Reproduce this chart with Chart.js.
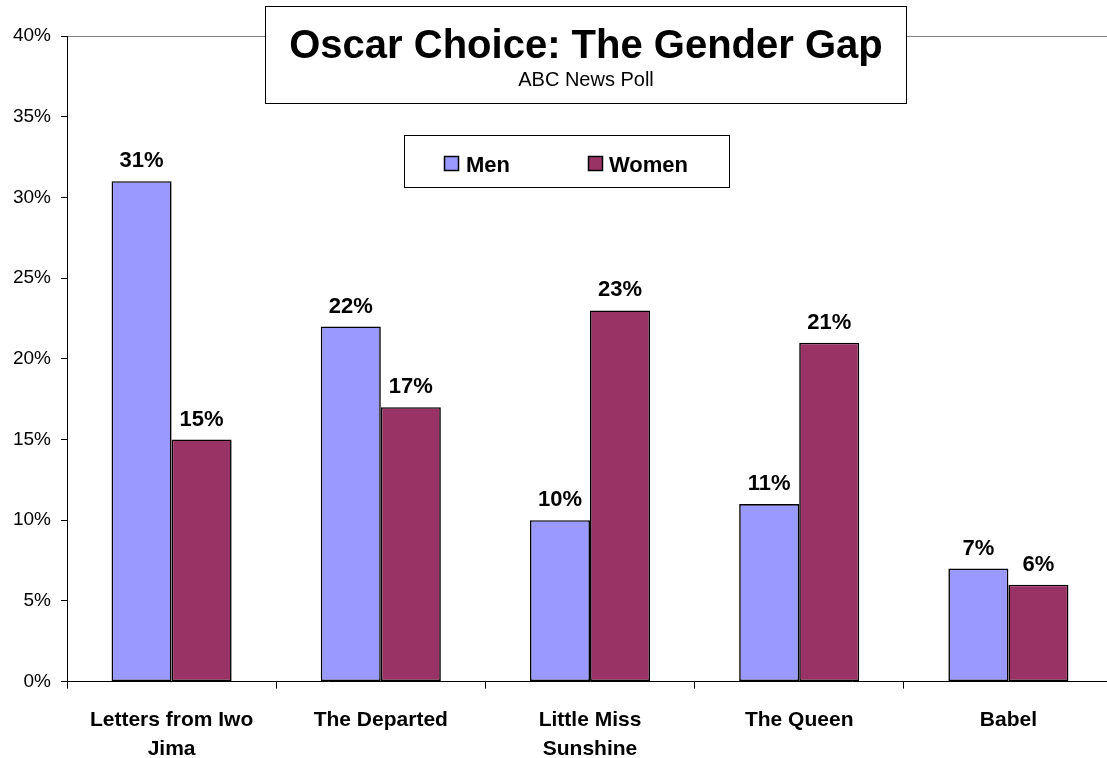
<!DOCTYPE html>
<html>
<head>
<meta charset="utf-8">
<title>Oscar Choice: The Gender Gap</title>
<script src="https://cdn.jsdelivr.net/npm/chart.js@4.4.0/dist/chart.umd.min.js"></script>
<style>
  html, body { margin: 0; padding: 0; background: #fff; overflow: hidden; }
  #wrap { width: 1107px; height: 758px; overflow: hidden; position: relative; }
  canvas { display: block; }
</style>
</head>
<body>
<div id="wrap"><canvas id="chart" width="1125" height="758"></canvas></div>
<script>
  // ── Data ───────────────────────────────────────────────────────────────────
  const CATEGORIES = [
    ['Letters from Iwo', 'Jima'],
    'The Departed',
    ['Little Miss', 'Sunshine'],
    'The Queen',
    'Babel',
  ];
  const MEN   = [31, 22, 10, 11, 7];
  const WOMEN = [15, 17, 23, 21, 6];
  const Y_TICKS = [0, 5, 10, 15, 20, 25, 30, 35, 40];

  const TITLE    = 'Oscar Choice: The Gender Gap';
  const SUBTITLE = 'ABC News Poll';

  const FONT = "'Liberation Sans', Arial, Helvetica, sans-serif";

  // ── Plugins: value labels, title box, legend box ──────────────────────────
  const valueLabels = {
    id: 'valueLabels',
    afterDatasetsDraw(chart) {
      const ctx = chart.ctx;
      ctx.save();
      ctx.font = 'bold 22px ' + FONT;
      ctx.fillStyle = '#000';
      ctx.textAlign = 'center';
      ctx.textBaseline = 'alphabetic';
      chart.data.datasets.forEach((ds, i) => {
        chart.getDatasetMeta(i).data.forEach((bar, j) => {
          ctx.fillText(ds.data[j] + '%', bar.x, bar.y - 14);
        });
      });
      ctx.restore();
    },
  };

  const boxes = {
    id: 'boxes',
    afterDraw(chart) {
      const ctx = chart.ctx;
      ctx.save();
      // title box
      ctx.fillStyle = '#fff';
      ctx.fillRect(266, 6, 641, 97);
      ctx.strokeStyle = '#000';
      ctx.lineWidth = 1;
      ctx.strokeRect(265.5, 6.5, 641, 97);
      ctx.fillStyle = '#000';
      ctx.textAlign = 'center';
      ctx.font = 'bold 40px ' + FONT;
      ctx.fillText(TITLE, 586, 58);
      ctx.font = '20px ' + FONT;
      ctx.fillText(SUBTITLE, 586, 86);

      // legend box
      ctx.fillStyle = '#fff';
      ctx.fillRect(405, 136, 325, 52);
      ctx.strokeStyle = '#000';
      ctx.strokeRect(404.5, 135.5, 325, 52);
      const items = [{ sx: 444, tx: 466 }, { sx: 588, tx: 609 }];
      ctx.textAlign = 'left';
      ctx.font = 'bold 22px ' + FONT;
      chart.data.datasets.forEach((ds, i) => {
        const it = items[i];
        ctx.fillStyle = ds.backgroundColor;
        ctx.fillRect(it.sx, 156, 15, 15);
        ctx.strokeStyle = '#000';
        ctx.lineWidth = 1.5;
        ctx.strokeRect(it.sx + 0.5, 156.5, 14, 14);
        ctx.fillStyle = '#000';
        ctx.fillText(ds.label, it.tx, 171.5);
      });
      ctx.restore();
    },
  };

  // ── Chart ──────────────────────────────────────────────────────────────────
  new Chart(document.getElementById('chart'), {
    type: 'bar',
    data: {
      labels: CATEGORIES,
      datasets: [
        { label: 'Men',   data: MEN,   backgroundColor: '#9999FF' },
        { label: 'Women', data: WOMEN, backgroundColor: '#993366' },
      ],
    },
    options: {
      responsive: false,
      animation: false,
      devicePixelRatio: 1,
      layout: { padding: { top: 36, right: 12, left: 0, bottom: 0 } },
      datasets: {
        bar: {
          categoryPercentage: 0.574, barPercentage: 1.0,
          borderColor: '#000', borderWidth: 1.6, borderSkipped: false,
        },
      },
      plugins: {
        legend: { display: false },
        title: { display: false },
        tooltip: { enabled: false },
      },
      scales: {
        x: {
          offset: true,
          grid: {
            display: true, offset: true, drawOnChartArea: false,
            tickLength: 7, tickColor: '#000',
          },
          border: { color: '#000', width: 1 },
          ticks: {
            color: '#000', padding: 17, maxRotation: 0, autoSkip: false,
            font: { family: FONT, size: 21, weight: 'bold', lineHeight: 1.4 },
          },
          afterFit(scale) { scale.height = 76.4; },
        },
        y: {
          min: 0, max: 40,
          afterBuildTicks(scale) { scale.ticks = Y_TICKS.map(v => ({ value: v })); },
          grid: {
            color: c => (c.tick && c.tick.value === 40 ? '#808080' : 'rgba(0,0,0,0)'),
            tickColor: '#000', tickLength: 6,
          },
          border: { color: '#000', width: 1 },
          ticks: {
            color: '#000', padding: 10,
            font: { family: FONT, size: 19 },
            callback: v => v + '%',
          },
          afterFit(scale) { scale.width = 67; },
        },
      },
    },
    plugins: [valueLabels, boxes],
  });
</script>
</body>
</html>
